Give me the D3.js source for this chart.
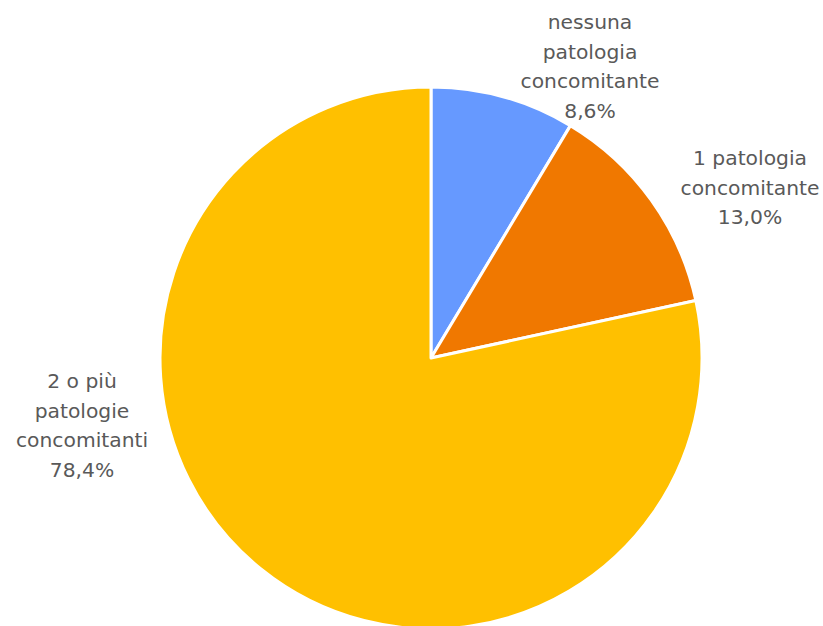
<!DOCTYPE html>
<html>
<head>
<meta charset="utf-8">
<script src="https://cdn.jsdelivr.net/npm/d3@7"></script>
<style>
  html, body { margin: 0; padding: 0; background: #fff; }
  svg { display: block; }
</style>
</head>
<body>
<svg id="chart" width="823" height="626"></svg>
<script>
// Distribution of patients by number of concomitant conditions
const categories = [
  ["nessuna", "patologia", "concomitante"],
  ["1 patologia", "concomitante"],
  ["2 o più", "patologie", "concomitanti"]
];
const values = [8.6, 13.0, 78.4];
const colors = ["#6699FF", "#F07800", "#FFC000"];

// Label block centres (x, y of the first line)
const labelAnchors = [
  { x: 590, y: 22 },
  { x: 750, y: 158 },
  { x: 82, y: 381 }
];

const svg = d3.select("#chart");
const cx = 431, cy = 358, radius = 271;

const pie = d3.pie().sort(null).value(d => d);
const arc = d3.arc().innerRadius(0).outerRadius(radius);

const g = svg.append("g").attr("transform", `translate(${cx},${cy})`);
g.selectAll("path")
  .data(pie(values))
  .join("path")
  .attr("d", arc)
  .attr("fill", (d, i) => colors[i])
  .attr("stroke", "#fff")
  .attr("stroke-width", 3)
  .attr("stroke-linejoin", "round");

const fmt = v => v.toFixed(1).replace(".", ",") + "%";
const lineH = 29.5;

labelAnchors.forEach((a, i) => {
  const lines = categories[i].concat([fmt(values[i])]);
  const t = svg.append("text")
    .attr("text-anchor", "middle")
    .attr("font-family", "Tahoma, 'DejaVu Sans', Verdana, sans-serif")
    .attr("font-size", 20.3)
    .attr("fill", "#595959");
  lines.forEach((s, j) => {
    t.append("tspan")
      .attr("x", a.x)
      .attr("y", a.y + j * lineH)
      .attr("dy", "0.35em")
      .text(s);
  });
});
</script>
</body>
</html>
